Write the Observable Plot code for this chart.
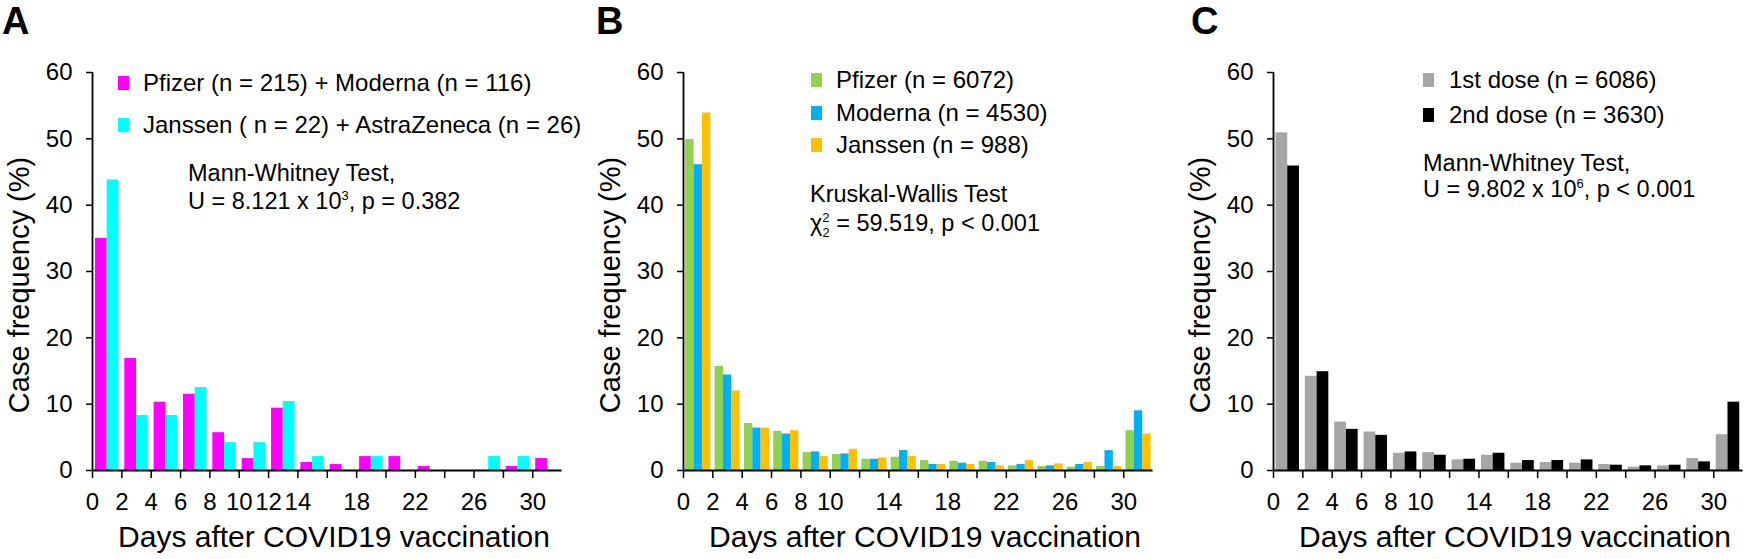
<!DOCTYPE html>
<html>
<head>
<meta charset="utf-8">
<script src="https://cdn.jsdelivr.net/npm/d3@7"></script>
<script src="https://cdn.jsdelivr.net/npm/@observablehq/plot@0.6"></script>
<style>
  body { margin: 0; background: #fff; }
  #fig { position: relative; width: 1748px; height: 559px; overflow: hidden;
         font-family: "Liberation Sans", Arial, Helvetica, sans-serif; color: #000; }
  .panel { position: absolute; top: 0; width: 567px; height: 559px; }
  .panel svg { position: absolute; left: 0; top: 0; }
  .txt { position: absolute; white-space: nowrap; line-height: 1; }
  .txt sup, .txt sub { font-size: 0.55em; line-height: 0; }
  .sw { position: absolute; width: 11px; height: 14px; }
</style>
</head>
<body>
<div id="fig"></div>
<script>
// bins of two days: 0-1, 2-3, ... 30-31
const days = [0, 2, 4, 6, 8, 10, 12, 14, 16, 18, 20, 22, 24, 26, 28, 30]
const yTicks = [0, 10, 20, 30, 40, 50, 60]
const labelsA = [0, 2, 4, 6, 8, 10, 12, 14, 18, 22, 26, 30]
const labelsBC = [0, 2, 4, 6, 8, 10, 14, 18, 22, 26, 30]

// A - mRNA vs vector vaccines (%)
const pfizerModerna = [35.0, 16.9, 10.3, 11.5, 5.7, 1.8, 9.4, 1.2, 0.9, 2.1, 2.1, 0.6, 0, 0, 0.6, 1.8]
const janssenAz = [43.8, 8.3, 8.3, 12.5, 4.2, 4.2, 10.4, 2.1, 0, 2.1, 0, 0, 0, 2.1, 2.1, 0]

// B - by vaccine (%)
const pfizerB = [49.9, 15.7, 7.1, 5.9, 2.7, 2.4, 1.7, 2.0, 1.5, 1.4, 1.4, 0.7, 0.6, 0.5, 0.6, 6.0]
const modernaB = [46.1, 14.4, 6.4, 5.5, 2.8, 2.5, 1.7, 3.0, 0.9, 1.1, 1.2, 0.9, 0.7, 0.9, 3.0, 9.0]
const janssenB = [53.9, 12.0, 6.4, 6.0, 2.1, 3.2, 1.9, 2.1, 0.9, 0.9, 0.7, 1.5, 1.0, 1.2, 0.6, 5.5]

// C - by dose (%)
const dose1 = [50.9, 14.2, 7.3, 5.8, 2.6, 2.7, 1.6, 2.3, 1.1, 1.2, 1.1, 0.9, 0.5, 0.7, 1.8, 5.4]
const dose2 = [45.9, 14.9, 6.2, 5.3, 2.8, 2.3, 1.7, 2.6, 1.5, 1.5, 1.6, 0.8, 0.7, 0.8, 1.3, 10.3]

const fig = document.getElementById('fig')

// text placed by its baseline (line-height 1)
function put(parent, html, x, baseline, size, extra = '') {
  const el = document.createElement('div')
  el.className = 'txt'
  el.style.cssText = `left:${x}px;top:${baseline - 0.8465 * size}px;font-size:${size}px;${extra}`
  el.innerHTML = html
  parent.appendChild(el)
  return el
}

function drawPanel({ left, letter, series, labels, off, w, legend, note }) {
  const div = document.createElement('div')
  div.className = 'panel'
  div.style.left = left + 'px'
  fig.appendChild(div)

  const rows = series.flatMap((s, i) =>
    days.map((d, k) => ({ day: d, value: s.values[k], series: s.name, i })),
  )

  const chart = Plot.plot({
    width: 567,
    height: 559,
    marginLeft: 92,
    marginRight: 5.4,
    marginTop: 72,
    marginBottom: 89,
    x: { domain: [0, 32] },
    y: { domain: [0, 60] },
    color: { domain: series.map(s => s.name), range: series.map(s => s.color) },
    style: {
      fontFamily: '"Liberation Sans", Arial, Helvetica, sans-serif',
      fontSize: '24px',
      color: '#000',
      background: 'transparent',
      overflow: 'visible',
    },
    marks: [
      Plot.rectY(rows, {
        x1: d => d.day + off + d.i * w,
        x2: d => d.day + off + (d.i + 1) * w,
        y1: 0,
        y2: 'value',
        fill: 'series',
      }),
      Plot.axisY({ ticks: yTicks, tickSize: 6, tickPadding: 14, label: null, strokeWidth: 1.5 }),
      Plot.axisX({
        ticks: days,
        tickSize: 8,
        tickPadding: 14,
        tickFormat: d => (labels.includes(d) ? String(d) : ''),
        label: null,
        strokeWidth: 1.5,
      }),
      Plot.ruleX([0], { strokeWidth: 1.8 }),
      Plot.ruleY([0], { strokeWidth: 1.8 }),
    ],
  })
  div.appendChild(chart)

  // panel letter
  put(div, letter, letter === 'C' ? 10 : letter === 'B' ? 5 : 2, 34, 38, 'font-weight:bold;')

  // axis titles
  const yt = put(div, 'Case frequency (%)', 0, 0, 29)
  yt.style.left = '19px'
  yt.style.top = '285px'
  yt.style.transform = 'translate(-50%,-50%) rotate(-90deg)'
  const xt = put(div, 'Days after COVID19 vaccination', 0, 547, 30)
  xt.style.left = '334px'
  xt.style.transform = 'translateX(-50%)'

  // legend
  legend.rows.forEach((r, k) => {
    const cy = legend.centers[k]
    const sw = document.createElement('div')
    sw.className = 'sw'
    sw.style.cssText = `left:${legend.sx}px;top:${cy - 7}px;background:${series[k].color};`
    div.appendChild(sw)
    put(div, r, legend.tx, cy + 8.5, 24)
  })

  // test note
  note.lines.forEach((l, k) => put(div, l, note.x, note.baselines[k], 23.5))
}

drawPanel({
  left: 0,
  letter: 'A',
  off: 0.2,
  w: 0.8,
  labels: labelsA,
  series: [
    { name: 'Pfizer + Moderna', values: pfizerModerna, color: '#ff00ff' },
    { name: 'Janssen + AstraZeneca', values: janssenAz, color: '#00ffff' },
  ],
  legend: {
    sx: 118, tx: 143, centers: [83, 125],
    rows: ['Pfizer (n = 215) + Moderna (n = 116)', 'Janssen ( n = 22) + AstraZeneca (n = 26)'],
  },
  note: {
    x: 188, baselines: [182, 210],
    lines: ['Mann-Whitney Test,', 'U = 8.121 x 10<sup>3</sup>, p = 0.382'],
  },
})

drawPanel({
  left: 591,
  letter: 'B',
  off: 0.15,
  w: 0.57,
  labels: labelsBC,
  series: [
    { name: 'Pfizer', values: pfizerB, color: '#92d050' },
    { name: 'Moderna', values: modernaB, color: '#00b0f0' },
    { name: 'Janssen', values: janssenB, color: '#ffc000' },
  ],
  legend: {
    sx: 220, tx: 245, centers: [80, 113, 145],
    rows: ['Pfizer (n = 6072)', 'Moderna (n = 4530)', 'Janssen (n = 988)'],
  },
  note: {
    x: 219, baselines: [203, 232],
    lines: ['Kruskal-Wallis Test', 'χ<sup>2</sup><sub style="margin-left:-0.55em">2</sub> = 59.519, p &lt; 0.001'],
  },
})

drawPanel({
  left: 1181,
  letter: 'C',
  off: 0.17,
  w: 0.8,
  labels: labelsBC,
  series: [
    { name: '1st dose', values: dose1, color: '#a6a6a6' },
    { name: '2nd dose', values: dose2, color: '#000000' },
  ],
  legend: {
    sx: 242, tx: 268, centers: [80, 115],
    rows: ['1st dose (n = 6086)', '2nd dose (n = 3630)'],
  },
  note: {
    x: 242, baselines: [172, 198],
    lines: ['Mann-Whitney Test,', 'U = 9.802 x 10<sup>6</sup>, p &lt; 0.001'],
  },
})
</script>
</body>
</html>
